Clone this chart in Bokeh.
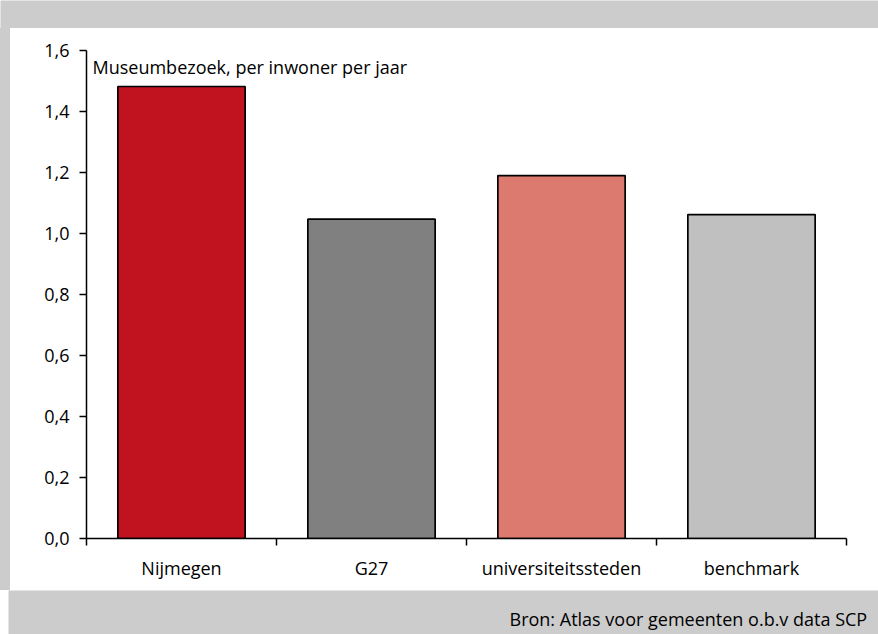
from bokeh.plotting import figure
from bokeh.models import (Range1d, FixedTicker, CustomJSTickFormatter, Label,
                          ColumnDataSource, Spacer)
from bokeh.layouts import column, row
from bokeh.core.properties import value
from bokeh.embed import file_html
from bokeh.resources import INLINE

categories = ["Nijmegen", "G27", "universiteitssteden", "benchmark"]
values = [1.482, 1.047, 1.190, 1.062]
colors = ["#C1121F", "#808080", "#DC7A70", "#C0C0C0"]
y_ticks = [0.0, 0.2, 0.4, 0.6, 0.8, 1.0, 1.2, 1.4, 1.6]
annotation_text = "Museumbezoek, per inwoner per jaar"
source_text = "Bron: Atlas voor gemeenten o.b.v data SCP"

FONT = "Open Sans"
GRAY = "#CCCCCC"
n = len(categories)
centers = [i + 0.5 for i in range(n)]
bounds = [float(i) for i in range(n + 1)]


def band(w, h):
    f = figure(width=w, height=h, output_backend="svg", toolbar_location=None,
               x_range=Range1d(0, w), y_range=Range1d(0, h),
               x_axis_location=None, y_axis_location=None,
               min_border=0, min_border_left=0, min_border_right=0,
               min_border_top=0, min_border_bottom=0)
    f.outline_line_color = None
    f.background_fill_color = GRAY
    f.border_fill_color = GRAY
    f.xgrid.visible = False
    f.ygrid.visible = False
    return f


top_band = band(878, 28)
left_band = Spacer(width=10, height=562, styles={"background-color": GRAY})
bottom_band = band(870, 44)
bottom_band.text(x=[501], y=[16], text=[source_text], text_font=value(FONT),
                 text_font_size="18px", text_color="black",
                 text_baseline="alphabetic")

src = ColumnDataSource(dict(x=centers, top=values, color=colors, name=categories))

p = figure(width=868, height=562, output_backend="svg", toolbar_location=None,
           x_range=Range1d(0, n), y_range=Range1d(y_ticks[0], y_ticks[-1]),
           min_border_left=76, min_border_right=32, min_border_top=22,
           min_border_bottom=52)
p.outline_line_color = None
p.background_fill_color = "white"
p.border_fill_color = "white"
p.xgrid.visible = False
p.ygrid.visible = False

p.vbar(x="x", top="top", bottom=0, width=0.67, source=src,
       fill_color="color", line_color="black", line_width=1.7)

# x axis
xa = p.xaxis[0]
xa.ticker = FixedTicker(ticks=centers, minor_ticks=bounds)
xa.major_label_overrides = {c: name for c, name in zip(centers, categories)}
xa.major_tick_line_color = None
xa.major_tick_in = 0
xa.major_tick_out = 0
xa.minor_tick_in = 0
xa.minor_tick_out = 7
xa.minor_tick_line_color = "black"
xa.minor_tick_line_width = 1.5
xa.axis_line_width = 1.5
xa.axis_line_color = "black"
xa.major_label_standoff = 10
xa.major_label_text_font = FONT
xa.major_label_text_font_size = "18px"
xa.major_label_text_color = "black"

# y axis
ya = p.yaxis[0]
ya.ticker = FixedTicker(ticks=y_ticks, minor_ticks=[])
ya.formatter = CustomJSTickFormatter(code="return tick.toFixed(1).replace('.', ',');")
ya.major_tick_in = 0
ya.major_tick_out = 7
ya.major_tick_line_width = 1.5
ya.minor_tick_line_color = None
ya.axis_line_width = 1.5
ya.major_label_standoff = 10
ya.major_label_text_font = FONT
ya.major_label_text_font_size = "18px"
ya.major_label_text_color = "black"

p.add_layout(Label(x=0, y=y_ticks[-1], x_offset=6, y_offset=-4, text=annotation_text,
                   text_baseline="top", text_font=FONT, text_font_size="18px",
                   text_color="black"))

layout = column(top_band,
                row(left_band, p, spacing=0),
                row(Spacer(width=8, height=44), bottom_band, spacing=0),
                spacing=0)

open("out.html", "w").write(file_html(layout, INLINE))
